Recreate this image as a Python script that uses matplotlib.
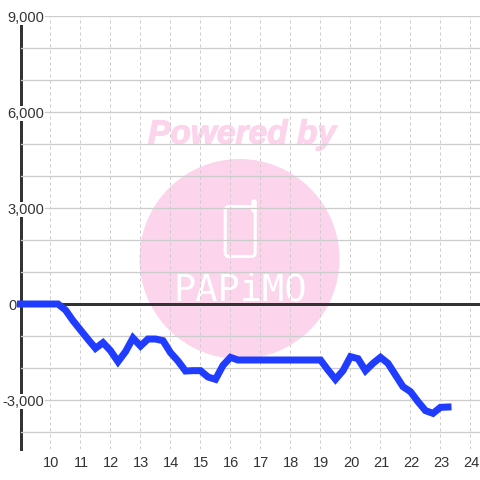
import matplotlib
matplotlib.use('Agg')
import matplotlib.pyplot as plt
import matplotlib.patheffects as pe
from matplotlib.patches import Circle, FancyBboxPatch
from matplotlib.lines import Line2D
from matplotlib.transforms import IdentityTransform, ScaledTranslation

hours = [9, 9.25, 9.5, 9.75, 10, 10.25, 10.5, 10.75, 11, 11.25, 11.5, 11.75, 12, 12.25, 12.5, 12.75,
         13, 13.25, 13.5, 13.75, 14, 14.25, 14.5, 14.75, 15, 15.25, 15.5, 15.75, 16, 16.25, 16.5, 16.75,
         17, 17.25, 17.5, 17.75, 18, 18.25, 18.5, 18.75, 19, 19.25, 19.5, 19.75, 20, 20.25, 20.5, 20.75,
         21, 21.25, 21.5, 21.75, 22, 22.25, 22.5, 22.75, 23, 23.25]
values = [0, 0, 0, 0, 0, 0, -188, -521, -813, -1104, -1385, -1208, -1458, -1802, -1490, -1063,
          -1313, -1094, -1094, -1146, -1521, -1781, -2094, -2083, -2083, -2281, -2354, -1917, -1667, -1750, -1750, -1750,
          -1750, -1750, -1750, -1750, -1750, -1750, -1750, -1750, -1750, -2063, -2354, -2083, -1646, -1708, -2083, -1854,
          -1667, -1854, -2219, -2583, -2740, -3052, -3333, -3417, -3229, -3219]
x_ticks = list(range(10, 25))
y_major = [-3000, 0, 3000, 6000, 9000]
y_minor = [-4000, -2000, -1000, 1000, 2000, 4000, 5000, 7000, 8000]
y_labels = ['-3,000', '0', '3,000', '6,000', '9,000']

plt.rcParams['font.family'] = ['Liberation Sans', 'DejaVu Sans']
PX = 72 / 100
TEXT = '#333333'
PINK = '#fcd5ec'
fig = plt.figure(figsize=(4.8, 4.8), dpi=100, facecolor='white')
ax = fig.add_axes([20.5 / 480, 31 / 480, 459.5 / 480, 433 / 480])
ax.set_xlim(9, 24.317)
ax.set_ylim(-4531, 9000)

def d(px, py):
    return px, 480 - py

# watermark
idt = IdentityTransform()
ax.add_patch(Circle(d(239.5, 259), 100, transform=idt, fc=PINK, ec='none', zorder=1, clip_on=False))
ax.add_patch(FancyBboxPatch(d(225.2, 256.5), 30, 50, boxstyle='round,pad=0,rounding_size=4', transform=idt,
                            fc='none', ec='white', lw=3 * PX, zorder=1.1))
ax.add_line(Line2D([d(253.5, 202)[0], d(253.5, 210)[0]], [d(253.5, 202)[1], d(253.5, 210)[1]],
                   transform=idt, color='white', lw=5.5 * PX, solid_capstyle='round', zorder=1.1))
ax.text(*d(240, 290), 'PAPiMO', transform=idt, ha='center', va='center', color='white',
        family='DejaVu Sans Mono', fontsize=37 * PX, zorder=1.1)
ax.text(*d(242, 135), 'Powered by', transform=idt, ha='center', va='center', color=PINK,
        fontsize=33.5 * PX, fontweight='bold', fontstyle='italic', zorder=1.1,
        path_effects=[pe.withStroke(linewidth=1.2 * PX, foreground=PINK)])

ax.set_xticks(x_ticks)
ax.set_yticks(y_major)
ax.set_yticklabels(y_labels)
ax.set_yticks(y_minor, minor=True)
ax.grid(True, axis='y', which='both', color='#cccccc', lw=1.3 * PX)
ax.grid(True, axis='x', color='#cccccc', lw=1 * PX, linestyle=(0, (3, 3)))
ax.tick_params(axis='both', which='both', length=0, labelsize=14.6 * PX, labelcolor=TEXT)
ax.tick_params(axis='x', pad=7 * PX)
ax.tick_params(axis='y', pad=-23.5 * PX)
ax.yaxis.set_zorder(3)
ax.xaxis.set_zorder(1.5)
fig.canvas.draw()
for tick, lab in zip(ax.yaxis.get_major_ticks(), y_labels):
    if lab == '0':
        tick.set_pad(3.5 * PX)
    tick.label1.set_bbox(dict(fc='white', ec='none', pad=0.5))
for tick in ax.xaxis.get_major_ticks():
    tick.label1.set_transform(tick.label1.get_transform() + ScaledTranslation(1 / 100, 0, fig.dpi_scale_trans))

for s in ['top', 'right', 'bottom']:
    ax.spines[s].set_visible(False)
ax.spines['left'].set_color('#333333')
ax.spines['left'].set_linewidth(3 * PX)

ax.axhline(0, color='#333333', lw=3 * PX, zorder=3.5)
ax.plot(hours, values, color='#1f3cff', lw=7 * PX, solid_joinstyle='miter',
        solid_capstyle='projecting', zorder=4, clip_on=False)

fig.savefig('out.png', dpi=100, facecolor='white')
